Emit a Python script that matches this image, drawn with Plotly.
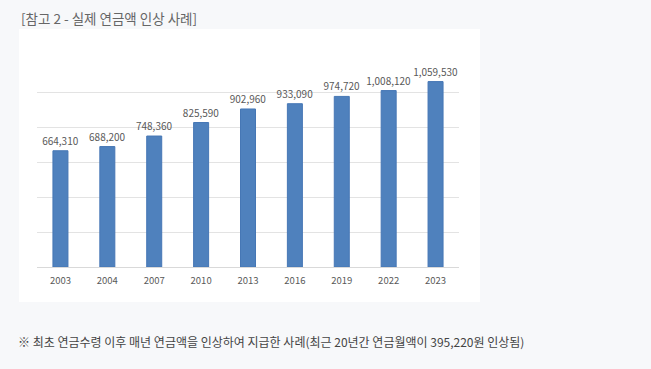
import plotly.graph_objects as go

years = ["2003", "2004", "2007", "2010", "2013", "2016", "2019", "2022", "2023"]
amounts = [664310, 688200, 748360, 825590, 902960, 933090, 974720, 1008120, 1059530]
title_text = "[참고 2 - 실제 연금액 인상 사례]"
note_text = "※ 최초 연금수령 이후 매년 연금액을 인상하여 지급한 사례(최근 20년간 연금월액이 395,220원 인상됨)"

W, H = 651, 369
L, R, T, B = 37, 459, 57, 267
pw, ph = R - L, B - T

def px(x):
    return (x - L) / pw

def py(y):
    return (B - y) / ph

font_family = "Noto Sans CJK KR, Noto Sans, sans-serif"

fig = go.Figure(
    go.Bar(
        x=years,
        y=amounts,
        text=[f"{v:,}" for v in amounts],
        textposition="outside",
        constraintext="none",
        textfont=dict(size=10, color="#595959"),
        cliponaxis=False,
        marker=dict(color="#4f81bd", line=dict(color="#4677b5", width=1)),
        hoverinfo="x+y",
    )
)

fig.update_layout(
    width=W,
    height=H,
    margin=dict(l=L, r=W - R, t=T, b=H - B, pad=0),
    paper_bgcolor="#f7f8fa",
    plot_bgcolor="rgba(0,0,0,0)",
    font=dict(family=font_family, color="#595959"),
    bargap=0.68,
    showlegend=False,
    shapes=[
        dict(
            type="rect", xref="paper", yref="paper",
            x0=px(19), x1=px(480), y0=py(302), y1=py(29),
            fillcolor="white", line=dict(width=0), layer="below",
        )
    ],
    annotations=[
        dict(
            text=title_text, xref="paper", yref="paper",
            x=px(19), y=py(18), xanchor="left", yanchor="middle",
            showarrow=False, font=dict(size=13.5, color="#666666", family=font_family),
        ),
        dict(
            text=note_text, xref="paper", yref="paper",
            x=px(16), y=py(341), xanchor="left", yanchor="middle",
            showarrow=False, font=dict(size=12, color="#444444", family=font_family),
        ),
    ],
)

fig.update_xaxes(
    type="category",
    showgrid=False,
    showline=False,
    ticks="outside", ticklen=5, tickcolor="rgba(0,0,0,0)",
    tickfont=dict(size=9.5, color="#595959"),
)
fig.update_yaxes(
    range=[0, 1200000],
    dtick=200000,
    showticklabels=False,
    showgrid=True,
    gridcolor="#e3e3e3",
    gridwidth=1,
    zeroline=True,
    zerolinecolor="#d9d9d9",
    zerolinewidth=1,
)

fig.write_html(
    "out.html",
    config={"displayModeBar": False},
    post_script="document.body.style.margin='0';document.body.style.background='#f7f8fa';",
)
